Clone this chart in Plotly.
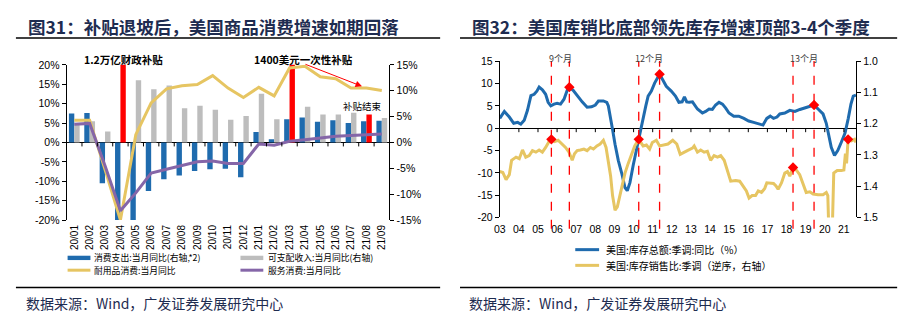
import plotly.graph_objects as go

W, H = 919, 335
def px(x): return x / W
def py(y): return 1 - y / H

# ---------------- Left chart data (Fig 31) ----------------
months = ["20/01","20/02","20/03","20/04","20/05","20/06","20/07","20/08","20/09","20/10",
          "20/11","20/12","21/01","21/02","21/03","21/04","21/05","21/06","21/07","21/08","21/09"]
spend_yoy_x2 = [5.6, 5.7, -7.9, -32.0, -21.0, -9.4, -7.1, -6.4, -5.5, -5.2,
                -5.1, -6.75, 2.0, 0.6, 4.5, 4.8, 4.0, 4.3, 3.75, 4.1, 4.2]
income_yoy = [3.6, 4.1, 2.1, 15.5, 12.0, 10.3, 11.0, 6.6, 7.1, 6.3,
              4.4, 5.1, 9.4, 4.5, 29.0, 6.9, 5.4, 5.4, 5.75, 5.4, 4.7]
subsidy_flag = [0, 0, 0, 1, 0, 0, 0, 0, 0, 0, 0, 0, 0, 0, 1, 0, 0, 0, 0, 1, 0]
durable_yoy = [5.7, 5.7, -7.0, -20.0, 2.0, 10.2, 13.8, 14.6, 14.9, 17.2,
               14.0, 11.6, 14.2, 12.0, 19.2, 19.6, 16.9, 16.4, 14.0, 14.0, 13.4]
services_yoy = [4.7, 4.9, -6.0, -17.6, -13.0, -7.9, -6.9, -5.9, -5.0, -4.8,
                -5.4, -5.4, -0.4, -0.7, 0.3, 0.7, 1.2, 1.6, 1.8, 2.0, 2.2]
left_ticks = [20, 15, 10, 5, 0, -5, -10, -15, -20]
right_ticks = [15, 10, 5, 0, -5, -10, -15]

# ---------------- Right chart data (Fig 32) ----------------
inv_x = [2003.0, 2003.24, 2003.5, 2003.73, 2003.94, 2004.1, 2004.28, 2004.45, 2004.63, 2004.8,
         2004.94, 2005.06, 2005.23, 2005.4, 2005.53, 2005.67, 2005.84, 2006.0, 2006.18, 2006.36,
         2006.53, 2006.64, 2006.84, 2007.05, 2007.31, 2007.57, 2007.8, 2008.0, 2008.16, 2008.42,
         2008.6, 2008.68, 2008.8, 2008.9, 2009.03, 2009.2, 2009.38, 2009.55, 2009.67, 2009.81,
         2009.98, 2010.15, 2010.32, 2010.5, 2010.64, 2010.76, 2010.93, 2011.1, 2011.24, 2011.36,
         2011.53, 2011.71, 2011.97, 2012.19, 2012.37, 2012.54, 2012.66, 2012.78, 2012.91, 2013.08,
         2013.34, 2013.6, 2013.77, 2013.95, 2014.12, 2014.29, 2014.47, 2014.65, 2014.82, 2014.99,
         2015.24, 2015.5, 2015.77, 2016.02, 2016.28, 2016.54, 2016.77, 2016.97, 2017.15, 2017.32,
         2017.5, 2017.65, 2017.91, 2018.17, 2018.44, 2018.7, 2018.96, 2019.22, 2019.44, 2019.65,
         2019.91, 2020.08, 2020.2, 2020.34, 2020.51, 2020.68, 2020.86, 2021.06, 2021.23, 2021.37,
         2021.49, 2021.63]
inv_yoy = [2.2, 3.75, 2.5, 1.1, 1.3, 0.9, 1.8, 4.0, 7.3, 7.6,
           8.3, 9.2, 8.6, 7.6, 5.8, 5.0, 5.4, 5.6, 5.4, 6.5,
           8.5, 9.2, 8.5, 7.3, 5.9, 4.7, 4.8, 5.2, 6.1, 6.1,
           5.8, 5.0, 2.5, -0.3, -3.6, -7.2, -10.1, -13.3, -14.0, -12.2,
           -8.3, -4.7, -1.4, 2.2, 5.0, 7.2, 8.3, 10.1, 11.2, 12.1,
           10.8, 9.4, 8.3, 7.2, 5.8, 5.9, 7.0, 5.9, 5.8, 5.9,
           4.3, 3.4, 3.75, 4.3, 4.2, 5.2, 5.8, 5.4, 4.5, 3.4,
           2.7, 2.7, 2.2, 1.6, 1.3, 0.9, 0.7, 2.2, 2.7, 2.2,
           2.5, 3.2, 3.4, 4.0, 3.75, 4.2, 4.5, 4.9, 5.2, 4.3,
           3.2, 1.1, -1.1, -4.3, -6.1, -5.0, -3.2, -1.1, 2.2, 5.4,
           7.2, 7.4]
isr_x = [2003.0, 2003.16, 2003.33, 2003.5, 2003.62, 2003.85, 2004.02, 2004.19, 2004.36, 2004.54,
         2004.71, 2004.89, 2005.06, 2005.23, 2005.4, 2005.58, 2005.7, 2005.87, 2006.05, 2006.27,
         2006.44, 2006.62, 2006.79, 2006.91, 2007.05, 2007.22, 2007.4, 2007.57, 2007.74, 2007.9,
         2008.08, 2008.25, 2008.42, 2008.56, 2008.68, 2008.8, 2008.9, 2009.03, 2009.15, 2009.29,
         2009.43, 2009.55, 2009.72, 2009.89, 2010.06, 2010.27, 2010.5, 2010.67, 2010.84, 2010.98,
         2011.19, 2011.36, 2011.57, 2011.8, 2012.05, 2012.26, 2012.44, 2012.66, 2012.81, 2013.08,
         2013.17, 2013.34, 2013.51, 2013.69, 2013.86, 2014.03, 2014.21, 2014.39, 2014.56, 2014.74,
         2014.91, 2015.08, 2015.34, 2015.55, 2015.72, 2015.9, 2016.04, 2016.2, 2016.38, 2016.52,
         2016.69, 2016.86, 2016.97, 2017.15, 2017.32, 2017.45, 2017.56, 2017.74, 2017.91, 2018.05,
         2018.17, 2018.34, 2018.51, 2018.69, 2018.86, 2019.03, 2019.22, 2019.39, 2019.65, 2019.91,
         2020.08, 2020.16, 2020.25, 2020.36, 2020.47, 2020.65, 2020.86, 2021.0, 2021.08, 2021.14,
         2021.22, 2021.39, 2021.56, 2021.63]
isr = [1.353, 1.356, 1.379, 1.363, 1.317, 1.307, 1.312, 1.284, 1.307, 1.302,
       1.286, 1.291, 1.284, 1.291, 1.276, 1.257, 1.25, 1.257, 1.253, 1.265,
       1.276, 1.291, 1.317, 1.296, 1.286, 1.284, 1.281, 1.286, 1.276, 1.281,
       1.271, 1.265, 1.253, 1.276, 1.317, 1.368, 1.43, 1.477, 1.466, 1.43,
       1.389, 1.358, 1.327, 1.302, 1.271, 1.25, 1.271, 1.268, 1.281, 1.26,
       1.253, 1.271, 1.269, 1.265, 1.253, 1.265, 1.298, 1.29, 1.286, 1.278,
       1.271, 1.291, 1.284, 1.291, 1.288, 1.317, 1.302, 1.307, 1.302, 1.317,
       1.348, 1.384, 1.382, 1.384, 1.399, 1.415, 1.438, 1.43, 1.43, 1.415,
       1.42, 1.407, 1.389, 1.391, 1.391, 1.399, 1.41, 1.389, 1.358, 1.353,
       1.368, 1.34, 1.348, 1.363, 1.394, 1.42, 1.418, 1.425, 1.427, 1.427,
       1.42, 1.43, 1.62, 1.62, 1.358, 1.35, 1.35, 1.348, 1.296, 1.327,
       1.25, 1.255, 1.25, 1.26]
peak_x = [2006.64, 2011.36, 2019.44]
peak_y = [9.2, 12.1, 5.2]
trough_x = [2005.7, 2010.27, 2018.34, 2021.22]
trough_y = [1.25, 1.25, 1.34, 1.25]
lag_labels = ["9个月", "12个月", "13个月"]
years = list(range(2003, 2022))
year_labels = [f"{y % 100:02d}" for y in years]
inv_ticks = [15, 10, 5, 0, -5, -10, -15, -20]
isr_ticks = [1.0, 1.1, 1.2, 1.3, 1.4, 1.5]

BLUE = "#1F6BAE"
GRAY = "#BDBDBD"
RED = "#FF0000"
YELLOW = "#E6C562"
PURPLE = "#8566A8"
NAVY = "#1E2C50"
CJK = "Noto Sans CJK SC"
LAT = "Liberation Sans"

fig = go.Figure()

# Left chart bars (right axis) and lines (left axis)
fig.add_trace(go.Bar(x=months, y=spend_yoy_x2, marker=dict(color=BLUE, line_width=0),
                     xaxis="x", yaxis="y", showlegend=False))
fig.add_trace(go.Bar(x=months, y=income_yoy,
                     marker=dict(color=[RED if f else GRAY for f in subsidy_flag], line_width=0),
                     xaxis="x", yaxis="y", showlegend=False))
fig.add_trace(go.Scatter(x=months, y=durable_yoy, mode="lines", line=dict(color=YELLOW, width=3),
                         xaxis="x", yaxis="y2", showlegend=False))
fig.add_trace(go.Scatter(x=months, y=services_yoy, mode="lines", line=dict(color=PURPLE, width=3),
                         xaxis="x", yaxis="y2", showlegend=False))

# Right chart lines
fig.add_trace(go.Scatter(x=inv_x, y=inv_yoy, mode="lines", line=dict(color=BLUE, width=3),
                         xaxis="x2", yaxis="y3", showlegend=False))
fig.add_trace(go.Scatter(x=peak_x, y=peak_y, mode="markers",
                         marker=dict(symbol="diamond", color=RED, size=8),
                         xaxis="x2", yaxis="y3", showlegend=False))
fig.add_trace(go.Scatter(x=isr_x, y=isr, mode="lines", line=dict(color=YELLOW, width=3),
                         xaxis="x2", yaxis="y4", showlegend=False))
fig.add_trace(go.Scatter(x=trough_x, y=trough_y, mode="markers",
                         marker=dict(symbol="diamond", color=RED, size=8),
                         xaxis="x2", yaxis="y4", showlegend=False))

axis_common = dict(showgrid=False, showline=True, linecolor="black", linewidth=1,
                   ticks="outside", ticklen=4, tickcolor="black",
                   tickfont=dict(family=LAT, size=10.5, color="black"))

fig.update_layout(
    width=W, height=H, margin=dict(l=0, r=0, t=0, b=0),
    paper_bgcolor="white", plot_bgcolor="rgba(0,0,0,0)",
    barmode="group", bargap=0.3, bargroupgap=0,
    xaxis=dict(domain=[px(61), px(386)], type="category", range=[-0.5, len(months) - 0.5],
               showgrid=False, showline=False, ticks="", tickangle=-90, anchor="y",
               tickfont=dict(family=LAT, size=10, color="black"), ticklabelstandoff=2),
    yaxis=dict(domain=[py(222), py(61)], range=[-15, 15], side="right", anchor="x",
               tickvals=right_ticks, ticktext=[f"{v}%" for v in right_ticks],
               zeroline=True, zerolinecolor="black", zerolinewidth=1, **axis_common),
    yaxis2=dict(range=[-20, 20], side="left", overlaying="y", anchor="x",
                tickvals=left_ticks, ticktext=[f"{v}%" for v in left_ticks],
                zeroline=False, **axis_common),
    xaxis2=dict(domain=[px(497), px(855.7)], range=[2003.0, 2021.64], anchor="y3",
                showgrid=False, showline=False, ticks="", zeroline=False,
                tickvals=years, ticktext=year_labels,
                tickfont=dict(family=LAT, size=10.5, color="black"), ticklabelstandoff=4),
    yaxis3=dict(domain=[py(219.3), py(57.3)], range=[-20, 15], side="left", anchor="x2",
                tickvals=inv_ticks, ticktext=[str(v) for v in inv_ticks],
                zeroline=True, zerolinecolor="black", zerolinewidth=1, **axis_common),
    yaxis4=dict(range=[1.5, 1.0], side="right", overlaying="y3", anchor="x2",
                tickvals=isr_ticks, ticktext=[f"{v:.1f}" for v in isr_ticks],
                zeroline=False, **axis_common),
)

shapes = []
# tick marks on zero lines
for i in range(len(months) - 1):
    shapes.append(dict(type="line", xref="x", yref="y", x0=i + 0.5, x1=i + 0.5,
                       ysizemode="pixel", yanchor=0, y0=0, y1=-4,
                       line=dict(color="black", width=1)))
for yv in years[1:]:
    shapes.append(dict(type="line", xref="x2", yref="y3", x0=yv, x1=yv,
                       ysizemode="pixel", yanchor=0, y0=0, y1=-4,
                       line=dict(color="black", width=1)))
# dashed lead/lag lines
for xv in trough_x[:3] + peak_x:
    shapes.append(dict(type="line", xref="x2", yref="paper", x0=xv, x1=xv,
                       y0=py(231), y1=py(57), line=dict(color=RED, width=1.3, dash="dash")))
# title and source rules
for x0, x1 in [(10, 437), (457, 897)]:
    shapes.append(dict(type="line", xref="paper", yref="paper", x0=px(x0), x1=px(x1),
                       y0=py(33.3), y1=py(33.3), line=dict(color="black", width=1.5)))
    shapes.append(dict(type="line", xref="paper", yref="paper", x0=px(x0), x1=px(x1),
                       y0=py(292), y1=py(292), line=dict(color="black", width=1.5)))
# legend swatches
shapes.append(dict(type="rect", xref="paper", yref="paper", x0=px(62), x1=px(85),
                   y0=py(263.5), y1=py(259), fillcolor=BLUE, line_width=0))
shapes.append(dict(type="rect", xref="paper", yref="paper", x0=px(236), x1=px(259),
                   y0=py(263.5), y1=py(259), fillcolor=GRAY, line_width=0))
for (x0, x1, yy, c) in [(62, 85, 274, YELLOW), (236, 259, 274, PURPLE),
                         (573, 597, 252.7, BLUE), (573, 597, 269, YELLOW)]:
    shapes.append(dict(type="line", xref="paper", yref="paper", x0=px(x0), x1=px(x1),
                       y0=py(yy), y1=py(yy), line=dict(color=c, width=3)))
fig.update_layout(shapes=shapes)

ann = []
def text(x, y, s, size, color="black", xanchor="left", family=CJK):
    ann.append(dict(x=px(x), y=py(y), xref="paper", yref="paper", text=s, showarrow=False,
                    xanchor=xanchor, yanchor="middle",
                    font=dict(family=family, size=size, color=color)))

text(20, 21, "<b>图31：补贴退坡后，美国商品消费增速如期回落</b>", 17.5, NAVY)
text(467, 21, "<b>图32：美国库销比底部领先库存增速顶部3-4个季度</b>", 17.5, NAVY)
text(18, 308, "数据来源：Wind，广发证券发展研究中心", 14, NAVY)
text(464, 308, "数据来源：Wind，广发证券发展研究中心", 14, NAVY)

text(77, 55.7, "<b>1.2万亿财政补贴</b>", 10.5)
text(248, 55.7, "<b>1400美元一次性补贴</b>", 10.5)
text(359, 104, "补贴结束", 9.5, xanchor="center")

text(87, 261, "消费支出:当月同比(右轴,*2)", 8.8)
text(262, 261, "可支配收入:当月同比(右轴)", 8.8)
text(87, 274, "耐用品消费:当月同比", 8.8)
text(262, 274, "服务消费:当月同比", 8.8)
text(602, 252.7, "美国:库存总额:季调:同比（%）", 10)
text(602, 269, "美国:库存销售比:季调（逆序，右轴）", 10)

for i, lab in enumerate(lag_labels):
    mid = (trough_x[i] + peak_x[i]) / 2
    ann.append(dict(x=mid, y=py(54.5), xref="x2", yref="paper", text=lab, showarrow=False,
                    xanchor="center", yanchor="middle",
                    font=dict(family=CJK, size=9, color="#404040")))

# arrow
ann.append(dict(x=px(358.3), y=py(83.3), xref="paper", yref="paper", text="",
                showarrow=True, ax=-58, ay=-22.6, arrowcolor=RED, arrowwidth=1,
                arrowhead=2, arrowsize=1.3))
fig.update_layout(annotations=ann)

fig.write_html("out.html")
